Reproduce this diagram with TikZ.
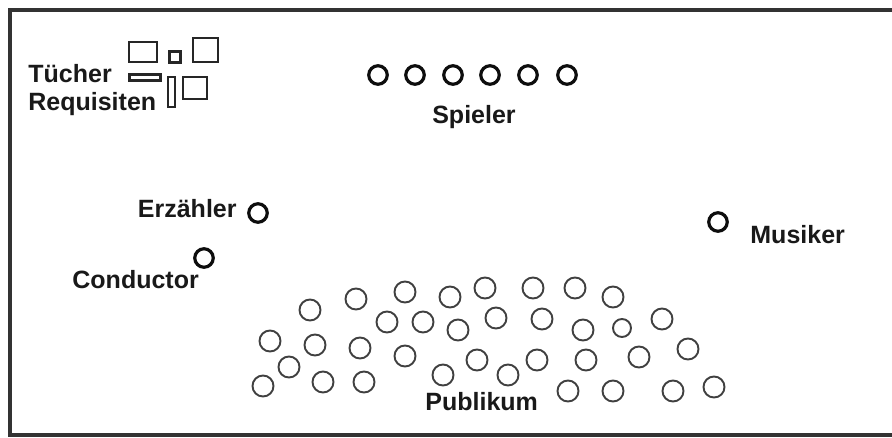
\documentclass[tikz,border=0pt]{standalone}
\usepackage{fontspec}
\setmainfont{Liberation Sans}
\usetikzlibrary{positioning}
\tikzset{every picture/.append style={thick}}

\begin{document}
\begin{tikzpicture}[x=1pt, y=-1pt,
    lbl/.style={font=\fontsize{25}{30}\selectfont\bfseries, text=black!90, inner sep=0pt},
    player/.style={circle, draw=black!95, line width=3.2pt, minimum size=18.5pt, inner sep=0pt},
    guest/.style={circle, draw=black!75, line width=1.9pt, minimum size=21pt, inner sep=0pt},
    prop/.style={draw=black!85, line width=1.6pt}]
    \useasboundingbox (0,0) rectangle (892,437);
    \fill[white] (0,0) rectangle (892,437);

    % ---------------- FRAME ---------------- %
    \draw[line width=3.2pt, black!80] (892,10) -- (10,10) -- (10,435) -- (892,435);

    % ---------------- PROPS ---------------- %
    \node[lbl, anchor=base west] (tuch) at (28,82) {Tücher};
    \node[lbl, anchor=base west] (requ) at (28,110) {Requisiten};
    \draw[prop] (129,42) rectangle (157,62);
    \draw[prop, line width=3pt] (169.5,51.5) rectangle (180.5,62.5);
    \draw[prop] (193,38) rectangle (218,62);
    \draw[prop, line width=3pt] (129.5,74.5) rectangle (160.5,80.5);
    \draw[prop] (168,77) rectangle (175,107);
    \draw[prop] (183,77) rectangle (207,99);

    % ---------------- STAGE ---------------- %
    \foreach \i/\x in {1/378, 2/415, 3/453, 4/490, 5/528, 6/567}
        \node[player] (sp\i) at (\x,75) {};
    \node[lbl, anchor=base] (spieler) at (474,123) {Spieler};

    \node[player] (erz) at (258,213) {};
    \node[lbl, anchor=base east] (erzlbl) at (237,217) {Erzähler};

    \node[player] (cond) at (204,258) {};
    \node[lbl, anchor=base west] (condlbl) at (72,288) {Conductor};

    \node[player] (mus) at (718,222) {};
    \node[lbl, anchor=base west] (muslbl) at (750,243) {Musiker};

    % ---------------- AUDIENCE ---------------- %
    \foreach \x/\y [count=\i] in {310/310, 356/299, 405/292, 450/297, 485/288, 533/288, 575/288, 613/297,
        387/322, 423/322, 458/330, 496/318, 542/319, 583/330, 662/319,
        270/341, 315/345, 360/348, 405/356, 477/360, 537/360, 586/360, 639/357, 688/349,
        289/367, 443/375, 508/375,
        263/386, 323/382, 364/382, 568/391, 613/391, 673/391, 714/387}
        \node[guest] (pub\i) at (\x,\y) {};
    \node[guest, minimum size=18pt] (pub35) at (622,328) {};
    \node[lbl, anchor=base west] (publbl) at (425,410) {Publikum};
\end{tikzpicture}
\end{document}
